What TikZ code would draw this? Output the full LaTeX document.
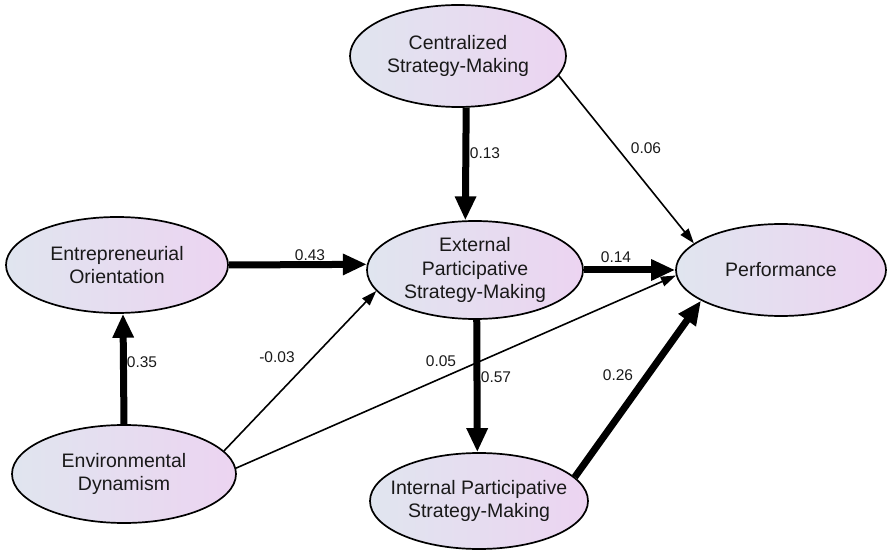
\documentclass[tikz,border=0pt]{standalone}
\usepackage{fontspec}
\setmainfont{Liberation Sans}
\usetikzlibrary{shapes.geometric,arrows.meta}
\definecolor{fillL}{RGB}{224,229,239}
\definecolor{fillR}{RGB}{236,212,241}
\definecolor{ink}{RGB}{25,25,25}
\begin{document}
\begin{tikzpicture}[x=1pt,y=-1pt,
  latent/.style={ellipse, draw=black, line width=1.7pt,
    left color=fillL, right color=fillR,
    inner xsep=-45pt, inner ysep=-18pt, align=center,
    font=\fontsize{19.5}{23.5}\selectfont, text=ink},
  strong/.style={line width=7pt, -{Triangle[length=24pt,width=20pt]}},
  weak/.style={line width=1.6pt, -{Triangle[length=15pt,width=10pt]}},
  coef/.style={font=\fontsize{15.5}{18}\selectfont, text=ink, inner sep=1pt}]
\useasboundingbox (0,0) rectangle (887,553);

% latent constructs
\node[latent, minimum width=216pt, minimum height=102pt] (cent) at (458,56) {Centralized\\Strategy-Making};
\node[latent, minimum width=222pt, minimum height=96pt] (eo) at (117,265) {Entrepreneurial\\Orientation};
\node[latent, minimum width=216pt, minimum height=98pt] (ext) at (475,270) {External\\Participative\\Strategy-Making};
\node[latent, minimum width=210pt, minimum height=92pt] (perf) at (781,270) {Performance};
\node[latent, minimum width=224pt, minimum height=98pt] (env) at (124,474) {Environmental\\Dynamism};
\node[latent, minimum width=218pt, minimum height=96pt] (int) at (479,501) {Internal Participative\\Strategy-Making};

% structural paths
\draw[strong] (cent.-81) -- (ext.101);
\draw[weak]   (cent.-11) -- (perf.163);
\draw[strong] (eo.east) -- (ext.177);
\draw[strong] (ext.east) -- (perf.west);
\draw[weak]   (env.13) -- (ext.192);
\draw[weak]   (env.3.5) -- (perf.183);
\draw[strong] (env.north) -- (eo.-83);
\draw[strong] (ext.-88) -- (int.92);
\draw[strong] (int.14) -- (perf.201);

% path coefficients
\node[coef] (c13) at (485,153) {0.13};
\node[coef] (c06) at (646,148) {0.06};
\node[coef] (c43) at (310,255) {0.43};
\node[coef] (c14) at (616,257) {0.14};
\node[coef] (c03) at (277,357) {-0.03};
\node[coef] (c05) at (441,361) {0.05};
\node[coef] (c35) at (142,362) {0.35};
\node[coef] (c57) at (496,377) {0.57};
\node[coef] (c26) at (618,375) {0.26};
\end{tikzpicture}
\end{document}
